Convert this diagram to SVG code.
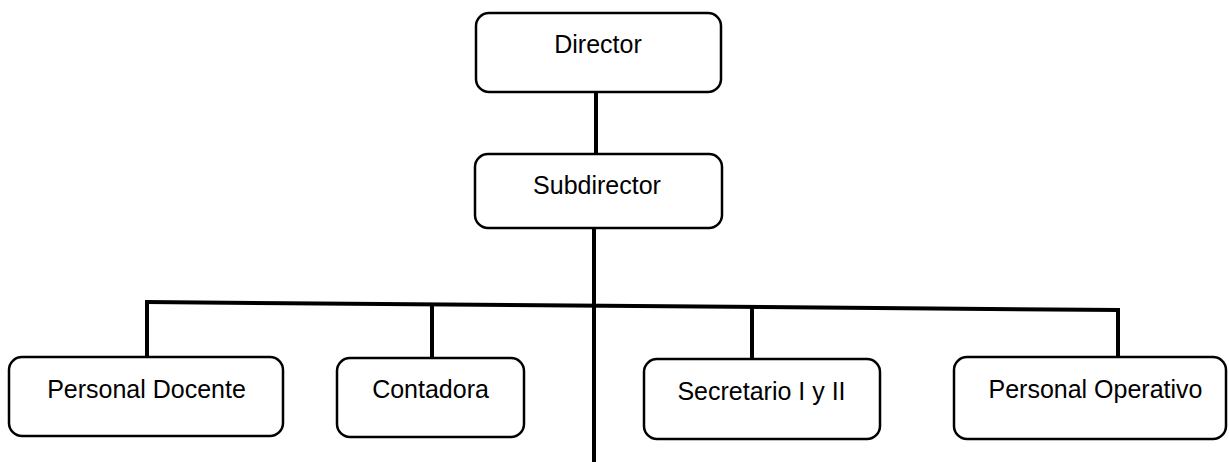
<svg xmlns="http://www.w3.org/2000/svg" width="1229" height="462" viewBox="0 0 1229 462">
<style>
.box{fill:#fff;stroke:#000;stroke-width:2.5}
.lbl{font-family:"Liberation Sans",Arial,sans-serif;font-size:25px;fill:#000;text-anchor:middle}
.ln{stroke:#000;stroke-width:4;fill:none;stroke-linecap:butt}
</style>
<rect width="1229" height="462" fill="#fff"/>
<g id="connectors">
<line class="ln" x1="596" y1="92" x2="596" y2="155"/>
<line class="ln" x1="594" y1="228" x2="594" y2="462"/>
<line class="ln" x1="145" y1="302" x2="1120" y2="310"/>
<line class="ln" x1="147" y1="302" x2="147" y2="357"/>
<line class="ln" x1="432" y1="304" x2="432" y2="358"/>
<line class="ln" x1="752" y1="306" x2="752" y2="359"/>
<line class="ln" x1="1118" y1="309" x2="1118" y2="357"/>
</g>
<g id="director">
<rect class="box" x="476" y="13" width="245" height="79" rx="13"/>
<text class="lbl" x="598" y="53">Director</text>
</g>
<g id="subdirector">
<rect class="box" x="475" y="154" width="247" height="74" rx="13"/>
<text class="lbl" x="597" y="194">Subdirector</text>
</g>
<g id="personal-docente">
<rect class="box" x="9" y="357" width="274" height="79" rx="13"/>
<text class="lbl" x="146.5" y="398">Personal Docente</text>
</g>
<g id="contadora">
<rect class="box" x="337" y="358" width="187" height="79" rx="13"/>
<text class="lbl" x="430.5" y="398">Contadora</text>
</g>
<g id="secretario">
<rect class="box" x="644" y="359" width="236" height="80" rx="13"/>
<text class="lbl" x="761.5" y="400">Secretario I y II</text>
</g>
<g id="personal-operativo">
<rect class="box" x="954" y="357" width="272" height="82" rx="13"/>
<text class="lbl" x="1095.5" y="398">Personal Operativo</text>
</g>
</svg>
